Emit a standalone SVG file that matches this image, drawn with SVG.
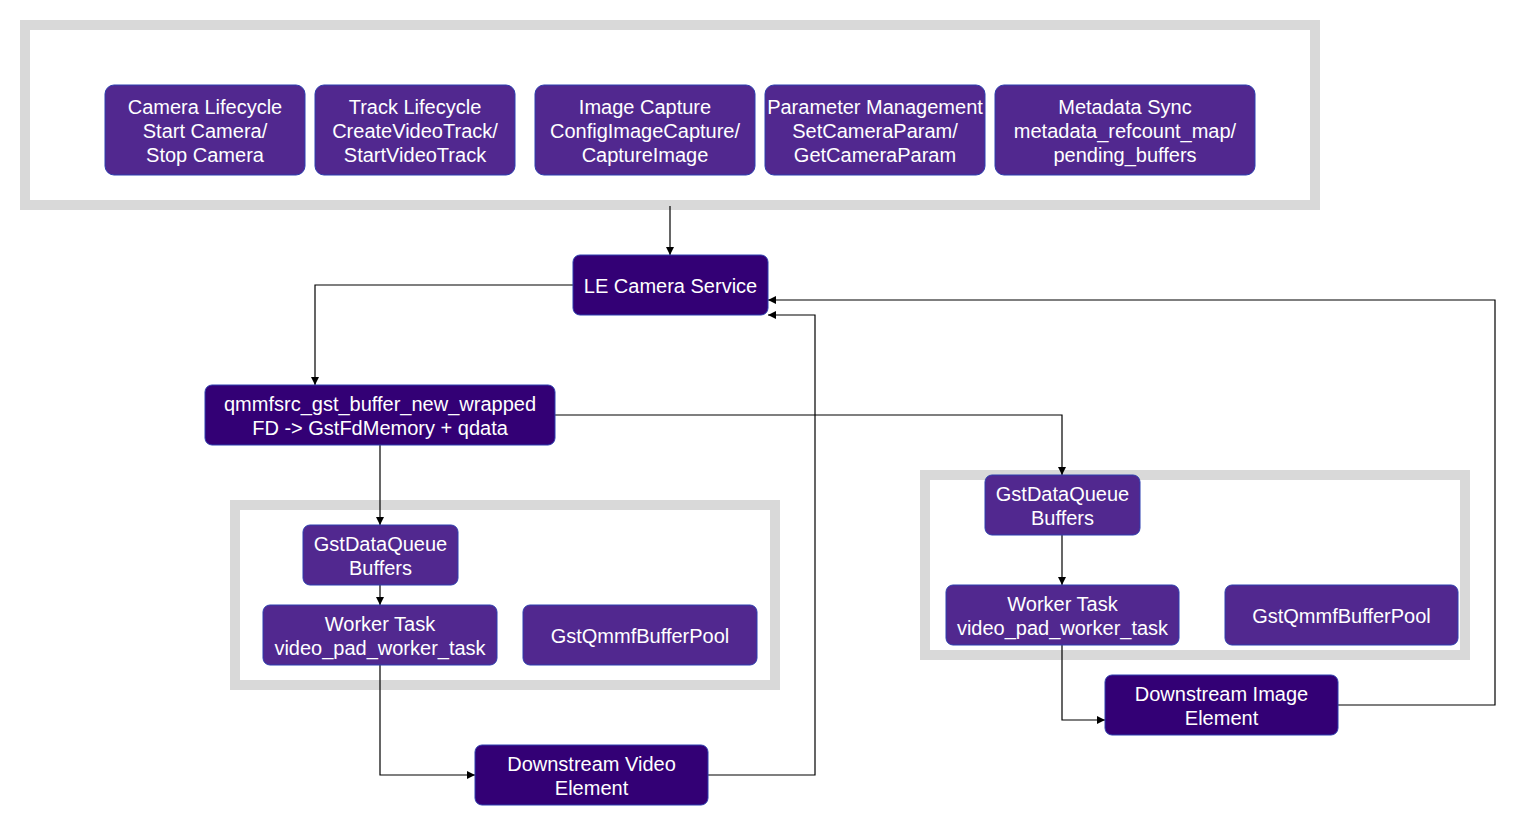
<svg xmlns="http://www.w3.org/2000/svg" width="1524" height="826" viewBox="0 0 1524 826">
<style>
.cont{fill:#ffffff;stroke:#d9d9d9;stroke-width:10}
.n1{fill:#51288f;stroke:#2d3fb0;stroke-width:1}
.n2{fill:#330075;stroke:#2d3fb0;stroke-width:1}
.t{fill:#ffffff;font-family:"Liberation Sans",Arial,sans-serif;font-size:20px;text-anchor:middle}
.e{fill:none;stroke:#000000;stroke-width:1.2}
</style>
<defs>
<marker id="ah" viewBox="0 0 10 10" refX="10" refY="5" markerWidth="8" markerHeight="8" markerUnits="userSpaceOnUse" orient="auto">
<path d="M0,0 L10,5 L0,10 z" fill="#000000"/>
</marker>
</defs>
<rect width="1524" height="826" fill="#ffffff"/>
<g id="containers">
<rect class="cont" x="25" y="25" width="1290" height="180"/>
<rect class="cont" x="235" y="505" width="540" height="180"/>
<rect class="cont" x="925" y="475" width="540" height="180"/>
</g>
<g id="connectors">
<path class="e" d="M670,206 V255" marker-end="url(#ah)"/>
<path class="e" d="M573,285 H315 V385" marker-end="url(#ah)"/>
<path class="e" d="M380,445 V525" marker-end="url(#ah)"/>
<path class="e" d="M380,585 V605" marker-end="url(#ah)"/>
<path class="e" d="M380,665 V775 H475" marker-end="url(#ah)"/>
<path class="e" d="M708,775 H815 V315 H768" marker-end="url(#ah)"/>
<path class="e" d="M555,415 H1062 V475" marker-end="url(#ah)"/>
<path class="e" d="M1062,535 V585" marker-end="url(#ah)"/>
<path class="e" d="M1062,645 V720 H1105" marker-end="url(#ah)"/>
<path class="e" d="M1338,705 H1495 V300 H768" marker-end="url(#ah)"/>
</g>
<g id="camera-lifecycle">
<rect class="n1" x="105" y="85" width="200" height="90" rx="9"/>
<text class="t" x="205" y="114">Camera Lifecycle</text>
<text class="t" x="205" y="138">Start Camera/</text>
<text class="t" x="205" y="162">Stop Camera</text>
</g>
<g id="track-lifecycle">
<rect class="n1" x="315" y="85" width="200" height="90" rx="9"/>
<text class="t" x="415" y="114">Track Lifecycle</text>
<text class="t" x="415" y="138">CreateVideoTrack/</text>
<text class="t" x="415" y="162">StartVideoTrack</text>
</g>
<g id="image-capture">
<rect class="n1" x="535" y="85" width="220" height="90" rx="9"/>
<text class="t" x="645" y="114">Image Capture</text>
<text class="t" x="645" y="138">ConfigImageCapture/</text>
<text class="t" x="645" y="162">CaptureImage</text>
</g>
<g id="parameter-management">
<rect class="n1" x="765" y="85" width="220" height="90" rx="9"/>
<text class="t" x="875" y="114">Parameter Management</text>
<text class="t" x="875" y="138">SetCameraParam/</text>
<text class="t" x="875" y="162">GetCameraParam</text>
</g>
<g id="metadata-sync">
<rect class="n1" x="995" y="85" width="260" height="90" rx="9"/>
<text class="t" x="1125" y="114">Metadata Sync</text>
<text class="t" x="1125" y="138">metadata_refcount_map/</text>
<text class="t" x="1125" y="162">pending_buffers</text>
</g>
<g id="le-camera-service">
<rect class="n2" x="573" y="255" width="195" height="60" rx="7"/>
<text class="t" x="670.5" y="293">LE Camera Service</text>
</g>
<g id="qmmfsrc-wrapped">
<rect class="n2" x="205" y="385" width="350" height="60" rx="7"/>
<text class="t" x="380" y="411">qmmfsrc_gst_buffer_new_wrapped</text>
<text class="t" x="380" y="435">FD -&gt; GstFdMemory + qdata</text>
</g>
<g id="video-dataqueue">
<rect class="n1" x="303" y="525" width="155" height="60" rx="7"/>
<text class="t" x="380.5" y="551">GstDataQueue</text>
<text class="t" x="380.5" y="575">Buffers</text>
</g>
<g id="video-worker">
<rect class="n1" x="263" y="605" width="234" height="60" rx="7"/>
<text class="t" x="380" y="631">Worker Task</text>
<text class="t" x="380" y="655">video_pad_worker_task</text>
</g>
<g id="video-bufferpool">
<rect class="n1" x="523" y="605" width="234" height="60" rx="7"/>
<text class="t" x="640" y="643">GstQmmfBufferPool</text>
</g>
<g id="downstream-video">
<rect class="n2" x="475" y="745" width="233" height="60" rx="7"/>
<text class="t" x="591.5" y="771">Downstream Video</text>
<text class="t" x="591.5" y="795">Element</text>
</g>
<g id="image-dataqueue">
<rect class="n1" x="985" y="475" width="155" height="60" rx="7"/>
<text class="t" x="1062.5" y="501">GstDataQueue</text>
<text class="t" x="1062.5" y="525">Buffers</text>
</g>
<g id="image-worker">
<rect class="n1" x="946" y="585" width="233" height="60" rx="7"/>
<text class="t" x="1062.5" y="611">Worker Task</text>
<text class="t" x="1062.5" y="635">video_pad_worker_task</text>
</g>
<g id="image-bufferpool">
<rect class="n1" x="1225" y="585" width="233" height="60" rx="7"/>
<text class="t" x="1341.5" y="623">GstQmmfBufferPool</text>
</g>
<g id="downstream-image">
<rect class="n2" x="1105" y="675" width="233" height="60" rx="7"/>
<text class="t" x="1221.5" y="701">Downstream Image</text>
<text class="t" x="1221.5" y="725">Element</text>
</g>
</svg>
